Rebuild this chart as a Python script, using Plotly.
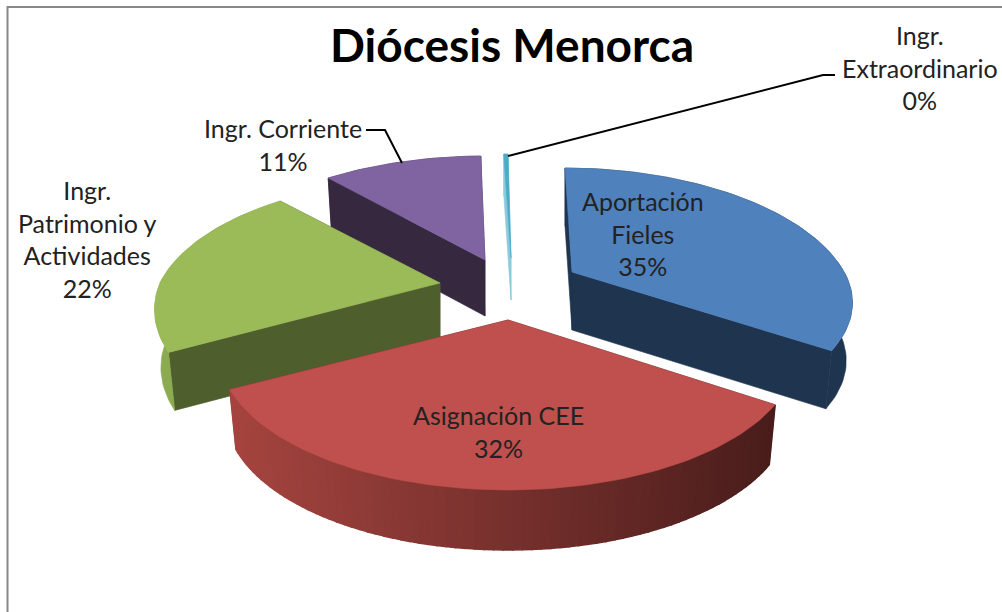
import math
import plotly.graph_objects as go

categories = ["Aportación Fieles", "Asignación CEE", "Ingr. Patrimonio y Actividades", "Ingr. Corriente", "Ingr. Extraordinario"]
values = [34.6, 32.5, 21.4, 11.2, 0.3]
percent_labels = ["35%", "32%", "22%", "11%", "0%"]

top_colors = ["#4F81BD", "#C0504D", "#9BBB59", "#8064A2", "#4BACC6"]
cut_colors = ["#1F344E", "#4A1E1C", "#4E5F2D", "#35283F", "#8CCBDB"]
wall_left = ["#1F344E", "#A5443F", "#8CAB50", "#35283F", "#8CCBDB"]
wall_right = ["#1F344E", "#491D1B", "#8CAB50", "#35283F", "#8CCBDB"]
apex_x = [572, 508, 440, 485, 511]
apex_y = [272, 320, 283, 260, 258]
depths = [58, 60, 58, 56, 42]
shear = [-7, 0, -4, 0, -3]
front_shear = [0, 0, 14, 0, 0]
x_scale = [0.972, 1, 1, 1, 1]
front_y = [0.93, 1, 1, 1, 1]

RX, RY, PERSP, TAPER = 280, 129, 0.241, 0.022


def proj(i, deg, r, z):
    a = math.radians(deg)
    wx, wy = r * math.sin(a), r * math.cos(a)
    s = 1 / (1 + PERSP * wy)
    ys = front_y[i] if wy < 0 else 1
    return (apex_x[i] + wx * RX * x_scale[i] * s * (1 - TAPER * z) + shear[i] * max(wy, 0) + front_shear[i] * max(-wy, 0),
            apex_y[i] - wy * RY * s * ys + z * depths[i])


def mix(c1, c2, t):
    t = max(0, min(1, t))
    p = [int(c1[j:j + 2], 16) for j in (1, 3, 5)]
    q = [int(c2[j:j + 2], 16) for j in (1, 3, 5)]
    return "rgb(%d,%d,%d)" % tuple(round(u + (v - u) * t) for u, v in zip(p, q))


fig = go.Figure()


def poly(pts, color, lw=0.6):
    xs = [p[0] for p in pts] + [pts[0][0]]
    ys = [p[1] for p in pts] + [pts[0][1]]
    fig.add_trace(go.Scatter(x=xs, y=ys, mode="lines", fill="toself", fillcolor=color,
                             line=dict(color=color, width=lw), hoverinfo="skip", showlegend=False))


total = sum(values)
starts = []
acc = 0.0
for v in values:
    starts.append(acc)
    acc += v

for i in [4, 3, 2, 0, 1]:
    a0 = starts[i] / total * 360
    a1 = (starts[i] + values[i]) / total * 360
    n = max(2, int((a1 - a0) / 1.5))
    angs = [a0 + (a1 - a0) * k / n for k in range(n + 1)]
    # cut faces sit behind the rim
    for edge in (a0, a1):
        poly([proj(i, edge, 0, 0), proj(i, edge, 1, 0), proj(i, edge, 1, 1), proj(i, edge, 0, 1)], cut_colors[i])
    # outer rim
    if wall_left[i] == wall_right[i]:
        poly([proj(i, d, 1, 0) for d in angs] + [proj(i, d, 1, 1) for d in reversed(angs)], wall_left[i])
    else:
        for k in range(n):
            p, q = angs[k], angs[k + 1]
            xm = proj(i, (p + q) / 2, 1, 0)[0]
            c = mix(wall_left[i], wall_right[i], (xm - 232) / (775 - 232))
            poly([proj(i, p, 1, 0), proj(i, q, 1, 0), proj(i, q, 1, 1), proj(i, p, 1, 1)], c, lw=1.6)
    # top face
    poly([proj(i, 0, 0, 0)] + [proj(i, d, 1, 0) for d in angs], top_colors[i])

# leader lines
fig.add_trace(go.Scatter(x=[366, 385, 402], y=[130, 130, 163], mode="lines", line=dict(color="black", width=2),
                         hoverinfo="skip", showlegend=False))
fig.add_trace(go.Scatter(x=[508, 823, 835], y=[156, 75, 75], mode="lines", line=dict(color="black", width=2),
                         hoverinfo="skip", showlegend=False))
# frame
fig.add_trace(go.Scatter(x=[7.5, 7.5, 1002], y=[612, 7, 7], mode="lines", line=dict(color="#888888", width=2),
                         hoverinfo="skip", showlegend=False))

label_lines = [
    ["Aportación", "Fieles", percent_labels[0]],
    ["Asignación CEE", percent_labels[1]],
    ["Ingr.", "Patrimonio y", "Actividades", percent_labels[2]],
    ["Ingr. Corriente", percent_labels[3]],
    ["Ingr.", "Extraordinario", percent_labels[4]],
]
label_x = [643, 498, 87, 283, 920]
label_y = [233, 431, 239, 144, 67]
for lines, lx, ly in zip(label_lines, label_x, label_y):
    fig.add_annotation(x=lx, y=ly, xref="x", yref="y", text="<br>".join(lines), showarrow=False,
                       align="center", font=dict(family="Lato", size=25, color="#222222"))
fig.add_annotation(x=512, y=44, xref="x", yref="y", text="<b>Diócesis Menorca</b>", showarrow=False,
                   font=dict(family="Lato", size=46, color="black"))

fig.update_layout(width=1002, height=612, margin=dict(l=0, r=0, t=0, b=0), paper_bgcolor="white",
                  plot_bgcolor="white", showlegend=False,
                  xaxis=dict(range=[0, 1002], visible=False, fixedrange=True),
                  yaxis=dict(range=[612, 0], visible=False, fixedrange=True))
fig.write_html("out.html", config={"displayModeBar": False},
               post_script="document.body.style.margin='0';document.body.style.overflow='hidden';")
